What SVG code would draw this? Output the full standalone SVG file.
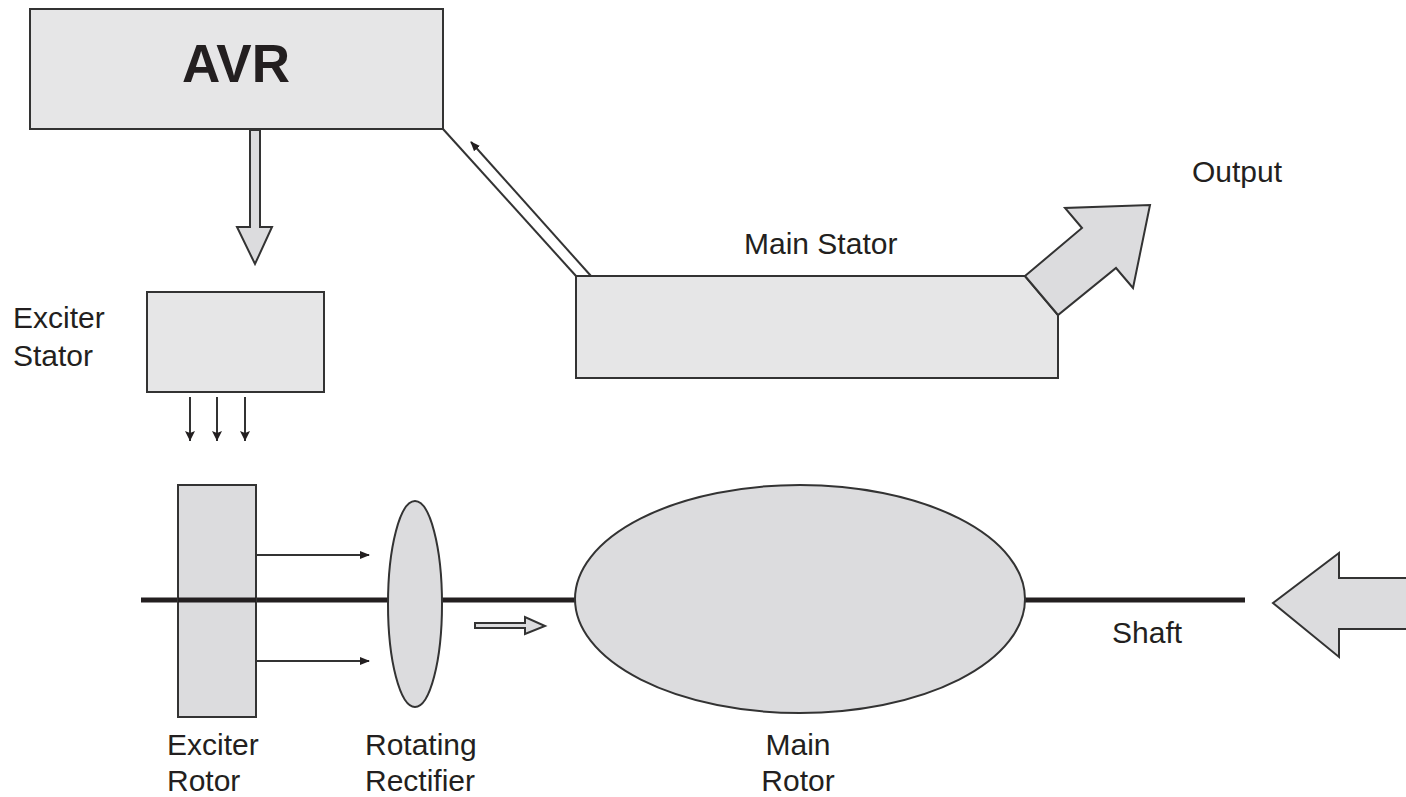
<svg xmlns="http://www.w3.org/2000/svg" width="1406" height="797" viewBox="0 0 1406 797">
  <style>
    .box { fill: #e6e6e7; stroke: #333; stroke-width: 2; }
    .part { fill: #dcdcde; stroke: #333; stroke-width: 2; }
    .wire { fill: none; stroke: #333; stroke-width: 2; }
    .lbl { font-family: "Liberation Sans", Arial, sans-serif; font-size: 30px; fill: #231f20; }
    .big { font-family: "Liberation Sans", Arial, sans-serif; font-size: 53px; font-weight: bold; fill: #231f20; }
  </style>
  <defs>
    <marker id="tip" markerWidth="10" markerHeight="10" refX="9" refY="5" orient="auto" markerUnits="userSpaceOnUse">
      <path d="M0,1 L10,5 L0,9 Z" fill="#231f20"/>
    </marker>
    <marker id="tipv" markerWidth="10" markerHeight="14" refX="5" refY="13" orient="0" markerUnits="userSpaceOnUse">
      <path d="M0,3 L5,13 L10,3 L5,5 Z" fill="#231f20"/>
    </marker>
  </defs>

  <g id="avr">
    <rect class="box" x="30" y="9" width="413" height="120"/>
    <text class="big" x="236" y="82" text-anchor="middle">AVR</text>
  </g>

  <g id="exciter-stator">
    <rect class="box" x="147" y="292" width="177" height="100"/>
    <text class="lbl" x="13" y="328">Exciter</text>
    <text class="lbl" x="13" y="366">Stator</text>
  </g>

  <g id="main-stator">
    <path class="box" d="M576,276 L1025,276 L1058,315 L1058,378 L576,378 Z"/>
    <text class="lbl" x="744" y="254">Main Stator</text>
  </g>

  <g id="output">
    <path class="part" d="M1025,276 L1082,228 L1065,208 L1150,205 L1133,288 L1116,268 L1058,315 Z"/>
    <text class="lbl" x="1192" y="182">Output</text>
  </g>

  <g id="shaft">
    <line x1="141" y1="600" x2="1245" y2="600" stroke="#231f20" stroke-width="5"/>
    <text class="lbl" x="1112" y="643">Shaft</text>
  </g>

  <g id="exciter-rotor">
    <rect class="part" x="178" y="485" width="78" height="232"/>
    <line x1="178" y1="600" x2="256" y2="600" stroke="#231f20" stroke-width="5"/>
    <text class="lbl" x="167" y="755">Exciter</text>
    <text class="lbl" x="167" y="791">Rotor</text>
  </g>

  <g id="rotating-rectifier">
    <ellipse class="part" cx="415" cy="604" rx="27" ry="103"/>
    <text class="lbl" x="365" y="755">Rotating</text>
    <text class="lbl" x="365" y="791">Rectifier</text>
  </g>

  <g id="main-rotor">
    <ellipse class="part" cx="800" cy="599" rx="225" ry="114"/>
    <text class="lbl" x="798" y="755" text-anchor="middle">Main</text>
    <text class="lbl" x="798" y="791" text-anchor="middle">Rotor</text>
  </g>

  <g id="drive-input">
    <path class="part" d="M1407,578 L1339,578 L1339,553 L1273,603 L1339,657 L1339,629 L1407,629"/>
  </g>

  <g id="connectors">
    <!-- AVR field supply to exciter stator (hollow arrow) -->
    <path class="part" d="M250,130 L260,130 L260,227 L272,227 L255,264 L237,227 L250,227 Z"/>
    <!-- voltage sensing from main stator back to the AVR -->
    <line class="wire" x1="443" y1="129" x2="576" y2="276"/>
    <line class="wire" x1="591" y1="276" x2="471" y2="142" marker-end="url(#tip)"/>
    <!-- exciter flux -->
    <line class="wire" x1="190" y1="397" x2="190" y2="441" stroke-width="1.5" marker-end="url(#tipv)"/>
    <line class="wire" x1="217" y1="397" x2="217" y2="441" stroke-width="1.5" marker-end="url(#tipv)"/>
    <line class="wire" x1="245" y1="397" x2="245" y2="441" stroke-width="1.5" marker-end="url(#tipv)"/>
    <!-- exciter rotor to rectifier -->
    <line class="wire" x1="256" y1="555" x2="369" y2="555" stroke-width="1.5" marker-end="url(#tip)"/>
    <line class="wire" x1="256" y1="661" x2="369" y2="661" stroke-width="1.5" marker-end="url(#tip)"/>
    <!-- rectified DC to main rotor -->
    <path class="part" stroke-width="1.5" d="M475,623 L525,623 L525,617 L545,626 L525,634 L525,628 L475,628 Z"/>
  </g>
</svg>
